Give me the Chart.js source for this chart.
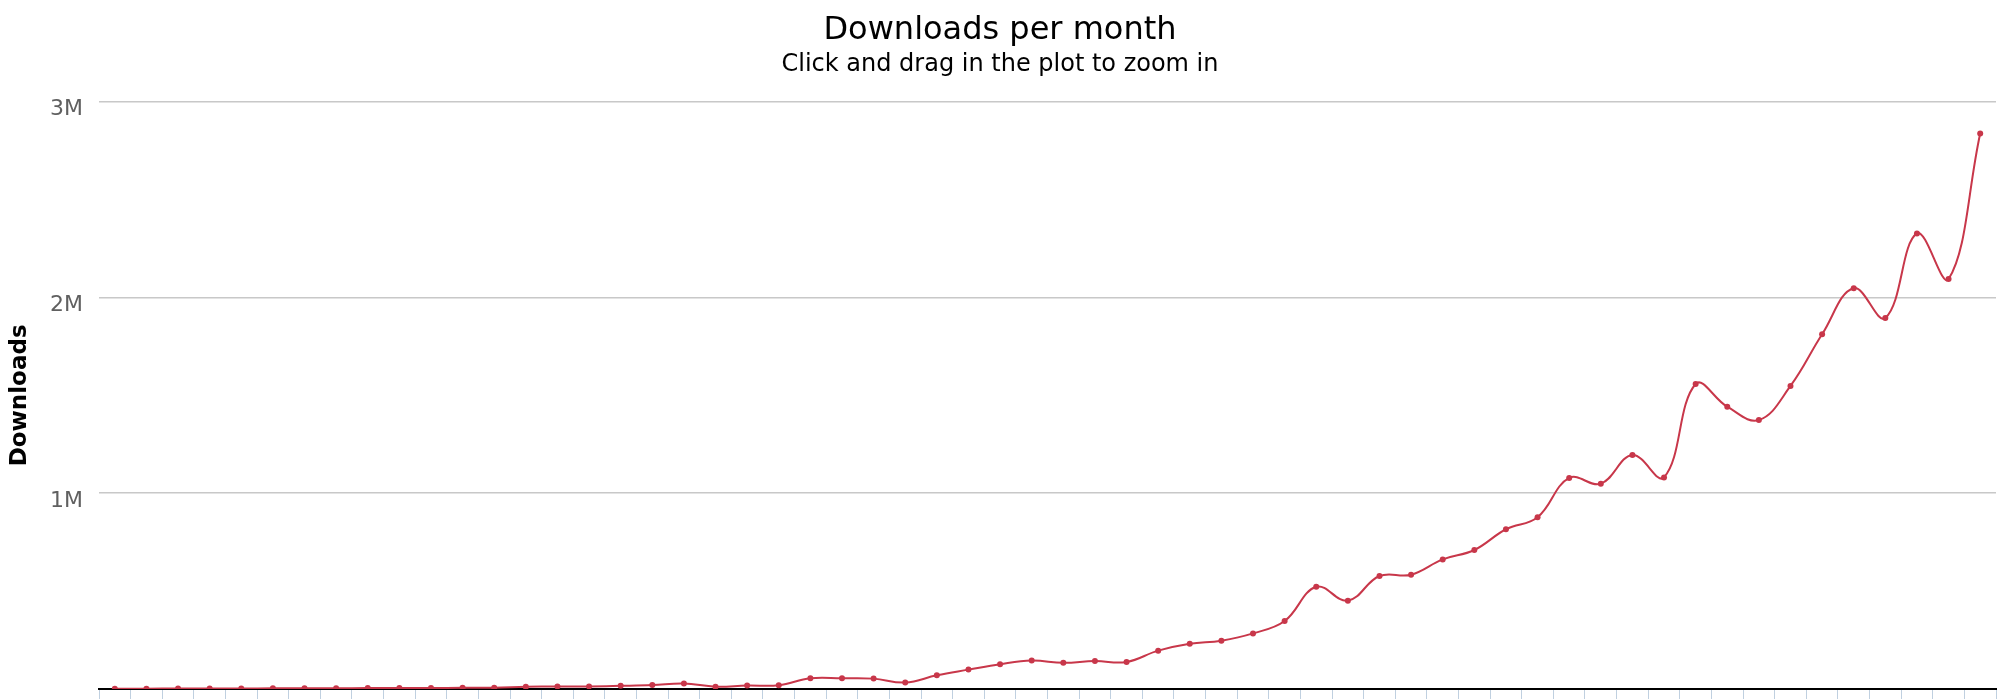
<!DOCTYPE html>
<html>
<head>
<meta charset="utf-8">
<script src="https://cdn.jsdelivr.net/npm/chart.js@4"></script>
<style>
  html, body { margin: 0; padding: 0; background: #ffffff; }
  #wrap { width: 2000px; height: 699px; position: relative; }
</style>
</head>
<body>
<div id="wrap"><canvas id="c"></canvas></div>
<script>
// Monthly download counts
const downloads = [
  1500, 1800, 2200, 2500, 2800, 3200, 3500, 4000, 4500, 5000,
  5500, 6000, 7000, 11000, 13000, 13000, 16000, 20000, 28000, 12000,
  18000, 19000, 55000, 55000, 53000, 33000, 70000, 99000, 127000, 145000,
  134000, 143000, 138000, 196000, 231000, 247000, 284000, 347000, 522000, 451000,
  577000, 584000, 662000, 710000, 816000, 877000, 1078000, 1049000, 1195000, 1081000,
  1558000, 1442000, 1374000, 1548000, 1812000, 2047000, 1895000, 2327000, 2094000, 2838000
];
// Category labels (one per month; the reference shows no x labels)
const months = downloads.map((_, i) => 'Month ' + (i + 1));
// Y axis tick values and their labels
const yTickValues = [0, 1000000, 2000000, 3000000];
const yTickLabels = ['', '1M', '2M', '3M'];

const FONT = '"Lucida Grande", "DejaVu Sans", sans-serif';

new Chart(document.getElementById('c'), {
  type: 'line',
  data: {
    labels: months,
    datasets: [{
      label: 'Downloads',
      data: downloads,
      borderColor: '#C8374A',
      backgroundColor: '#C8374A',
      borderWidth: 2,
      pointRadius: 3,
      pointBorderWidth: 0,
      pointBackgroundColor: '#C8374A',
      tension: 0.4,
      fill: false
    }]
  },
  options: {
    responsive: true,
    maintainAspectRatio: false,
    animation: false,
    layout: { padding: { left: 0, right: 0, top: 0, bottom: 0 } },
    plugins: {
      legend: { display: false },
      tooltip: { enabled: false },
      title: {
        display: true,
        text: 'Downloads per month',
        color: '#000000',
        font: { family: FONT, size: 32, weight: 'normal' },
        padding: { top: 11, bottom: 0 }
      },
      subtitle: {
        display: true,
        text: 'Click and drag in the plot to zoom in',
        color: '#000000',
        font: { family: FONT, size: 24, weight: 'normal' },
        padding: { top: 1, bottom: 22.5 }
      }
    },
    scales: {
      x: {
        type: 'category',
        offset: true,
        grid: {
          display: true,
          offset: true,
          drawOnChartArea: false,
          drawTicks: true,
          tickLength: 10,
          color: '#C0D0E0',
          lineWidth: 1
        },
        border: { display: true, color: '#000000', width: 2 },
        ticks: { display: false },
        afterFit: (s) => { s.height = 10; s.paddingLeft = 0; s.paddingRight = 0; }
      },
      y: {
        min: 0,
        max: 3000000,
        afterBuildTicks: (s) => { s.ticks = yTickValues.map(v => ({ value: v })); },
        grid: {
          color: '#C8C8C8',
          lineWidth: 1.5,
          drawTicks: false
        },
        border: { display: false },
        ticks: {
          color: '#606060',
          padding: 16,
          labelOffset: 8,
          font: { family: FONT, size: 22 },
          callback: (v) => yTickLabels[yTickValues.indexOf(v)]
        },
        title: {
          display: true,
          text: 'Downloads',
          color: '#000000',
          font: { family: FONT, size: 23, weight: 'bold' },
          padding: { top: 6, bottom: 0 }
        },
        afterFit: (s) => { s.width = 99; s.paddingTop = 0; s.paddingBottom = 0; }
      }
    }
  }
});
</script>
</body>
</html>
